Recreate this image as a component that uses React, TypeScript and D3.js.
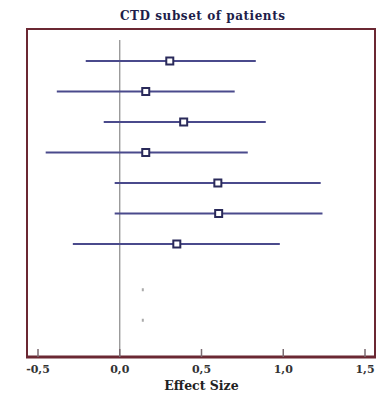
import React from "react";
import * as d3 from "d3";

const studies = ["S1", "S2", "S3", "S4", "S5", "S6", "S7", "S8", "S9"];
const rowPos = [1, 2, 3, 4, 5, 6, 7, 8.5, 9.5];
const effect = [0.306, 0.159, 0.391, 0.159, 0.6, 0.605, 0.349, 0.141, 0.141];
const lower = [-0.208, -0.385, -0.098, -0.453, -0.031, -0.031, -0.287, null, null];
const upper = [0.832, 0.703, 0.893, 0.783, 1.229, 1.24, 0.979, null, null];
const xTicks = [-0.5, 0, 0.5, 1.0, 1.5];
const xTickLabels = ["-0,5", "0,0", "0,5", "1,0", "1,5"];

const W = 378;
const H = 396;
const box = { left: 27, right: 375, top: 29, bottom: 357 };

export default function App() {
  const x = d3.scaleLinear().domain([-0.5, 1.5]).range([38, 365]);
  const y = d3.scaleLinear().domain([1, 9.5]).range([61, 320.25]);
  const lineColor = "#4a4a8c";
  const boxColor = "#6b2833";
  const font = "'DejaVu Serif', serif";
  return (
    <svg
      width={W}
      height={H}
      style={{ position: "fixed", left: 0, top: 0, background: "#fff" }}
    >
      <rect x={0} y={0} width={W} height={H} fill="#fff" />
      <text
        x={202.5}
        y={20}
        textAnchor="middle"
        fontFamily={font}
        fontWeight="bold"
        fontSize={12}
        fill="#1e1e4a"
        textLength={165}
        lengthAdjust="spacing"
      >
        CTD subset of patients
      </text>
      {/* zero line */}
      <line x1={x(0)} x2={x(0)} y1={40} y2={box.bottom} stroke="#8a8a8a" strokeWidth={1.2} />
      {/* CI lines */}
      {studies.map((s, i) =>
        lower[i] !== null && upper[i] !== null ? (
          <line
            key={"l" + s}
            x1={x(lower[i] as number)}
            x2={x(upper[i] as number)}
            y1={y(rowPos[i])}
            y2={y(rowPos[i])}
            stroke={lineColor}
            strokeWidth={2.2}
          />
        ) : null
      )}
      {studies.map((s, i) =>
        lower[i] !== null ? (
          <rect
            key={"m" + s}
            x={x(effect[i]) - 3.5}
            y={y(rowPos[i]) - 3.5}
            width={7}
            height={7}
            fill="#fff"
            stroke="#2a2a5a"
            strokeWidth={2}
          />
        ) : (
          <rect
            key={"m" + s}
            x={x(effect[i]) - 1}
            y={y(rowPos[i]) - 1.5}
            width={2}
            height={3}
            fill="#aaaaaa"
          />
        )
      )}
      {/* frame */}
      <rect
        x={box.left}
        y={box.top}
        width={box.right - box.left}
        height={box.bottom - box.top}
        fill="none"
        stroke={boxColor}
        strokeWidth={2}
      />
      <line x1={box.left - 1} x2={box.right + 1} y1={box.bottom} y2={box.bottom} stroke={boxColor} strokeWidth={3} />
      {xTicks.map((t, i) => (
        <g key={"t" + t}>
          <line x1={x(t)} x2={x(t)} y1={box.bottom} y2={box.bottom - 8} stroke="#7a6a70" strokeWidth={1.5} />
          <text
            x={x(t)}
            y={373}
            textAnchor="middle"
            fontFamily={font}
            fontWeight="bold"
            fontSize={11}
            fill="#333"
          >
            {xTickLabels[i]}
          </text>
        </g>
      ))}
      <text
        x={201.5}
        y={390}
        textAnchor="middle"
        fontFamily={font}
        fontWeight="bold"
        fontSize={12.5}
        fill="#222"
      >
        Effect Size
      </text>
    </svg>
  );
}
